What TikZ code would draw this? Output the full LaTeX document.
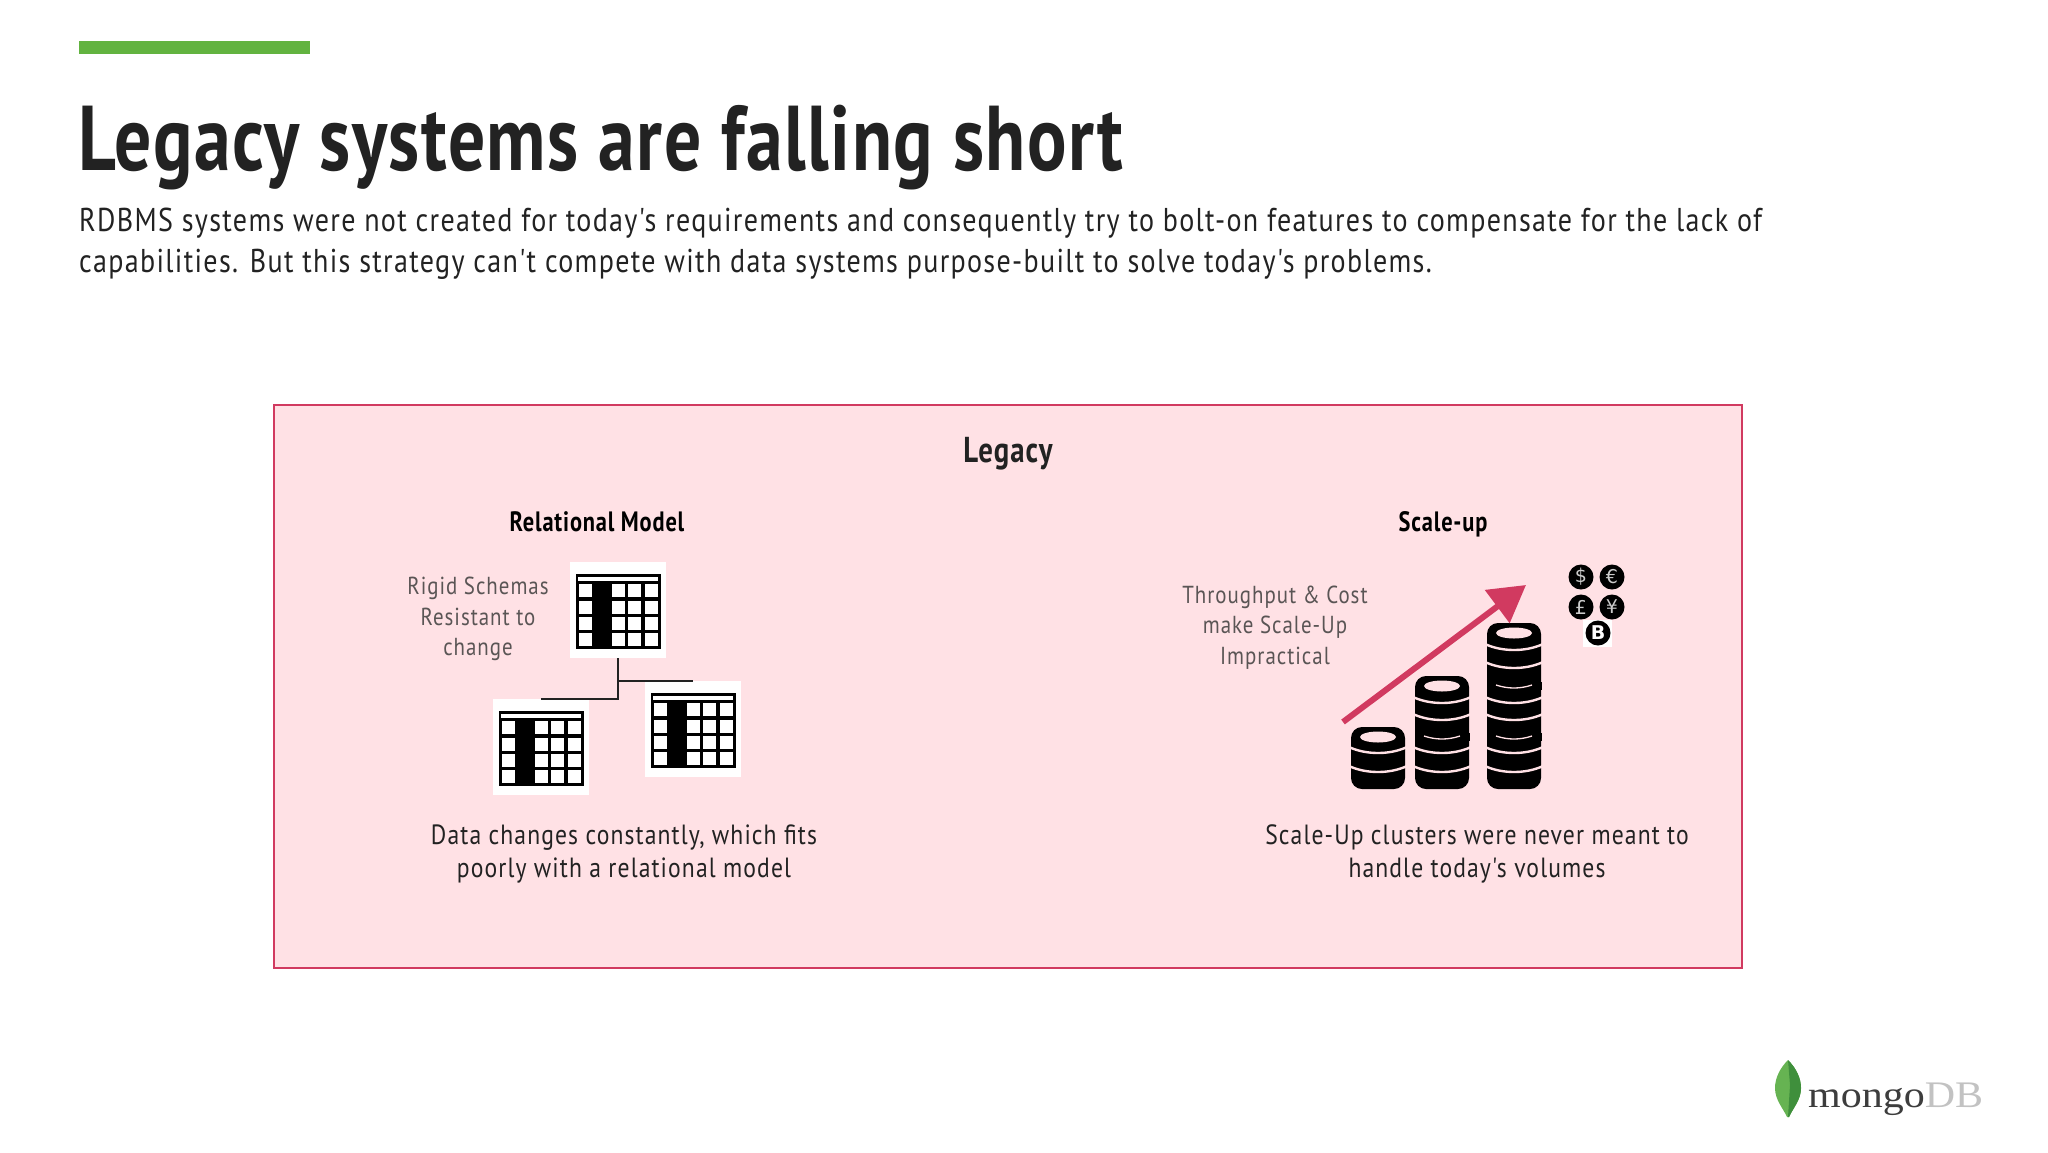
\documentclass[tikz,border=0pt]{standalone}
\usepackage{fontspec}
\usetikzlibrary{arrows.meta}
\setmainfont{PT Sans}
\newfontfamily\nar[FakeStretch=0.85,LetterSpace=4]{PT Sans}
\newfontfamily\narb[FakeStretch=0.8,LetterSpace=3]{PT Sans}
\newfontfamily\narc[FakeStretch=0.8,LetterSpace=1.6]{PT Sans}
\newfontfamily\logof[FakeStretch=1.12]{Liberation Serif}
\newfontfamily\symf{DejaVu Sans}
\definecolor{barg}{HTML}{62B340}
\definecolor{ink}{HTML}{222222}
\definecolor{greytxt}{HTML}{5A5555}
\definecolor{panelb}{HTML}{FFE1E5}
\definecolor{panell}{HTML}{D13A60}
\definecolor{leafa}{HTML}{66B352}
\definecolor{leafb}{HTML}{3F8F3C}
\tikzset{
  x=1pt,y=-1pt,
  txt/.style={inner sep=0,align=center,font=\nar\fontsize{27.8}{33.5}\selectfont,text=ink},
  lab/.style={inner sep=0,align=center,font=\nar\fontsize{24.6}{30.5}\selectfont,text=greytxt},
  head/.style={inner sep=0,font=\narb\bfseries\fontsize{28}{33}\selectfont,text=black},
  tbg/.style={fill=white,draw=none,minimum size=96pt,inner sep=0},
  link/.style={draw=ink,line width=2pt},
  cur/.style={circle,fill=black,minimum size=25pt,inner sep=0,text=white!80!black,font=\symf\fontsize{19}{19}\selectfont},
  tablepic/.pic={
    \fill[white] (-48,-48) rectangle (48,48);
    \fill[black] (-42.5,-36) rectangle (42.5,39);
    \fill[white] (-40,-33) rectangle (40,-29);
    \foreach \yy in {-20,-3,13.5,29.5}{
      \foreach \xx in {-33,0,16.5,33}{
        \fill[white] (\xx-6.5,\yy-6.5) rectangle (\xx+6.5,\yy+6.5);
      }
    }
  },
}
\newcommand{\divid}[2]{\draw[panelb,line width=2.4pt] (#1-29,#2-6) .. controls (#1-12,#2+2) and (#1+12,#2+2) .. (#1+29,#2-6);}
\newcommand{\slit}[2]{\fill[black] (#1-27.5,#2-5) rectangle (#1+27.5,#2+3);\draw[panelb,line width=1.3pt] (#1-18,#2-2) .. controls (#1-6,#2+2) and (#1+6,#2+2) .. (#1+18,#2-2);}
\begin{document}
\begin{tikzpicture}
\useasboundingbox (0,0) rectangle (2048,1152);
\fill[white] (0,0) rectangle (2048,1152);
\node[fill=barg,minimum width=231pt,minimum height=13pt,inner sep=0,anchor=north west] (bar) at (79,41) {};
\node[inner sep=0,anchor=base west,font=\narc\bfseries\fontsize{92}{92}\selectfont,text=ink] (title) at (78,170) {Legacy systems are falling short};
\node[inner sep=0,anchor=base west,font=\nar\fontsize{33}{33}\selectfont,text=ink] (sub1) at (79,231) {RDBMS systems were not created for today's requirements and consequently try to bolt-on features to compensate for the lack of};
\node[inner sep=0,anchor=base west,font=\nar\fontsize{33}{33}\selectfont,text=ink] (sub2) at (79,272) {capabilities. But this strategy can't compete with data systems purpose-built to solve today's problems.};
\node[draw=panell,fill=panelb,line width=2pt,minimum width=1468pt,minimum height=562.5pt,inner sep=0,anchor=north west] (panel) at (273,404) {};
\node[inner sep=0,anchor=base,font=\narb\bfseries\fontsize{36}{36}\selectfont,text=ink] (legacy) at (1008,462) {Legacy};
\node[head,anchor=base] (relm) at (597,531) {Relational Model};
\node[head,anchor=base] (scup) at (1443,531) {Scale-up};
% tables
\node[tbg] (t1) at (618,610) {};
\node[tbg] (t2) at (541,747) {};
\node[tbg] (t3) at (693,729) {};
\coordinate (j2) at (t2.north);
\coordinate (j3) at (t3.north);
\pic at (t1) {tablepic};
\pic at (t2) {tablepic};
\pic at (t3) {tablepic};
\draw[link] (t1.south) -- (t1.south |- j2) -- (j2);
\draw[link] (t1.south |- j3) -- (j3);
\node[lab,anchor=center] (rigid) at (478,619) {Rigid Schemas\\Resistant to\\change};
\node[txt] (cap1) at (624,854) {Data changes constantly, which fits\\poorly with a relational model};
\node[txt] (cap2) at (1477,854) {Scale-Up clusters were never meant to\\handle today's volumes};
\node[lab] (tput) at (1275,627.5) {Throughput \& Cost\\make Scale-Up\\Impractical};
% coins
\foreach \cx/\ytop in {1378/727,1442/676,1514/623}{
  \fill[black,rounded corners=11pt] (\cx-27,\ytop) rectangle (\cx+27,789);
  \fill[panelb] (\cx,\ytop+10) ellipse (18pt and 5.5pt);
}
\foreach \dy in {753,772}{\divid{1378}{\dy}\divid{1442}{\dy}\divid{1514}{\dy}}
\foreach \dy in {703,720}{\divid{1442}{\dy}\divid{1514}{\dy}}
\foreach \dy in {650,668}{\divid{1514}{\dy}}
\slit{1442}{738}\slit{1514}{738}\slit{1514}{687}
% arrow
\coordinate (ars) at (1343,722);
\coordinate (are) at (1526,585);
\draw[panell,line width=6pt,-{Triangle[length=36pt,width=40pt]}] (ars) -- (are);
% currencies
\node[cur] (usd) at (1581,577) {\$};
\node[cur] (eur) at (1612,577) {€};
\node[cur] (gbp) at (1581,607) {£};
\node[cur] (yen) at (1612,607) {¥};
\node[fill=white,minimum width=29pt,minimum height=27pt,inner sep=0] (btcbg) at (1597.5,633) {};
\node[cur,text=white] (btc) at (1598,633) {\bfseries B};
% logo
\fill[leafa] (1788,1060) .. controls (1780,1068) and (1775,1078) .. (1775,1088) .. controls (1775,1100) and (1783,1108) .. (1787,1117) -- (1789,1117) .. controls (1793,1108) and (1801,1100) .. (1801,1088) .. controls (1801,1078) and (1796,1068) .. (1788,1060) -- cycle;
\fill[leafb] (1788,1060) .. controls (1796,1068) and (1801,1078) .. (1801,1088) .. controls (1801,1100) and (1793,1108) .. (1789,1117) -- (1788,1117) -- (1790,1085) -- cycle;
\node[inner sep=0,anchor=base west,font=\logof\fontsize{37.5}{37.5}\selectfont] (logo) at (1808,1107) {\textcolor[HTML]{3D3D3D}{mongo}\textcolor[HTML]{C2C2C2}{DB}};
\end{tikzpicture}
\end{document}
